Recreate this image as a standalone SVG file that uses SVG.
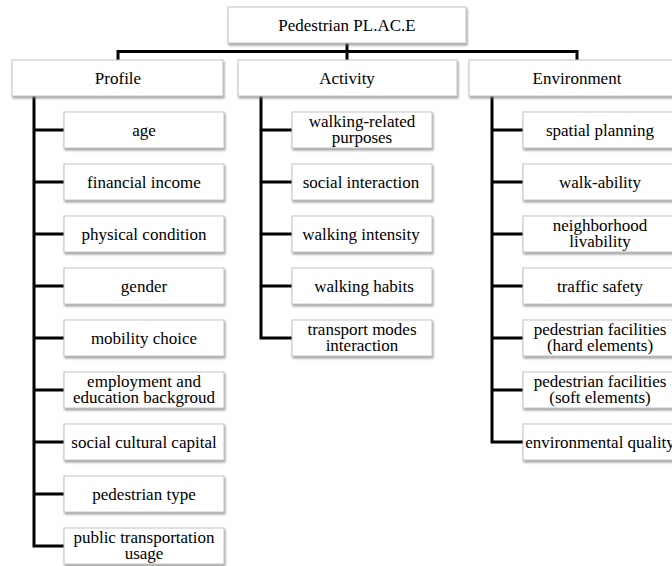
<svg xmlns="http://www.w3.org/2000/svg" width="672" height="566" viewBox="0 0 672 566">
<defs>
<filter id="sh" x="-10%" y="-20%" width="130%" height="160%">
<feDropShadow dx="1" dy="2" stdDeviation="1.2" flood-color="#777" flood-opacity="0.7"/>
</filter>
<style>
.b{fill:#fff;stroke:#c4c4c4;stroke-width:1;filter:url(#sh)}
.t{font-family:"Liberation Serif","Times New Roman",serif;font-size:17px;fill:#000;text-anchor:middle}
.c{stroke:#000;stroke-width:3;fill:none;stroke-linecap:square}
</style>
</defs>
<rect width="672" height="566" fill="#fff"/>
<g id="connectors">
<path class="c" d="M118 60V51.5H577V60M347 44V60"/>
<path class="c" d="M34 97V546M34 130H64M34 182H64M34 234H64M34 286H64M34 338H64M34 390H64M34 442H64M34 494H64M34 546H64"/>
<path class="c" d="M261 97V338M261 130H292M261 182H292M261 234H292M261 286H292M261 338H292"/>
<path class="c" d="M492 97V442M492 130H523M492 182H523M492 234H523M492 286H523M492 338H523M492 390H523M492 442H523"/>
</g>
<g id="root"><rect class="b" x="228" y="7" width="238" height="36"/><text class="t" x="347" y="31">Pedestrian PL.AC.E</text></g>
<g id="profile"><rect class="b" x="12" y="60" width="211" height="36"/><text class="t" x="118" y="84">Profile</text></g>
<g id="activity"><rect class="b" x="238" y="60" width="219" height="36"/><text class="t" x="347" y="84">Activity</text></g>
<g id="environment"><rect class="b" x="469" y="60" width="216" height="36"/><text class="t" x="577" y="84">Environment</text></g>
<g id="p1"><rect class="b" x="64" y="112" width="160" height="36"/><text class="t" x="144" y="136">age</text></g>
<g id="p2"><rect class="b" x="64" y="164" width="160" height="36"/><text class="t" x="144" y="188">financial income</text></g>
<g id="p3"><rect class="b" x="64" y="216" width="160" height="36"/><text class="t" x="144" y="240">physical condition</text></g>
<g id="p4"><rect class="b" x="64" y="268" width="160" height="36"/><text class="t" x="144" y="292">gender</text></g>
<g id="p5"><rect class="b" x="64" y="320" width="160" height="36"/><text class="t" x="144" y="344">mobility choice</text></g>
<g id="p6"><rect class="b" x="64" y="372" width="160" height="36"/><text class="t" x="144" y="387">employment and</text><text class="t" x="144" y="403">education backgroud</text></g>
<g id="p7"><rect class="b" x="64" y="424" width="160" height="36"/><text class="t" x="144" y="448">social cultural capital</text></g>
<g id="p8"><rect class="b" x="64" y="476" width="160" height="36"/><text class="t" x="144" y="500">pedestrian type</text></g>
<g id="p9"><rect class="b" x="64" y="528" width="160" height="36"/><text class="t" x="144" y="543">public transportation</text><text class="t" x="144" y="559">usage</text></g>
<g id="a1"><rect class="b" x="292" y="112" width="140" height="36"/><text class="t" x="362" y="127">walking-related</text><text class="t" x="362" y="143">purposes</text></g>
<g id="a2"><rect class="b" x="292" y="164" width="140" height="36"/><text class="t" x="361" y="188">social interaction</text></g>
<g id="a3"><rect class="b" x="292" y="216" width="140" height="36"/><text class="t" x="361" y="240">walking intensity</text></g>
<g id="a4"><rect class="b" x="292" y="268" width="140" height="36"/><text class="t" x="364" y="292">walking habits</text></g>
<g id="a5"><rect class="b" x="292" y="320" width="140" height="36"/><text class="t" x="362" y="335">transport modes</text><text class="t" x="362" y="351">interaction</text></g>
<g id="e1"><rect class="b" x="523" y="112" width="156" height="36"/><text class="t" x="600" y="136">spatial planning</text></g>
<g id="e2"><rect class="b" x="523" y="164" width="156" height="36"/><text class="t" x="600" y="188">walk-ability</text></g>
<g id="e3"><rect class="b" x="523" y="216" width="156" height="36"/><text class="t" x="600" y="231">neighborhood</text><text class="t" x="600" y="247">livability</text></g>
<g id="e4"><rect class="b" x="523" y="268" width="156" height="36"/><text class="t" x="600" y="292">traffic safety</text></g>
<g id="e5"><rect class="b" x="523" y="320" width="156" height="36"/><text class="t" x="600" y="335">pedestrian facilities</text><text class="t" x="600" y="351">(hard elements)</text></g>
<g id="e6"><rect class="b" x="523" y="372" width="156" height="36"/><text class="t" x="600" y="387">pedestrian facilities</text><text class="t" x="600" y="403">(soft elements)</text></g>
<g id="e7"><rect class="b" x="523" y="424" width="156" height="36"/><text class="t" x="600" y="448">environmental quality</text></g>
</svg>
